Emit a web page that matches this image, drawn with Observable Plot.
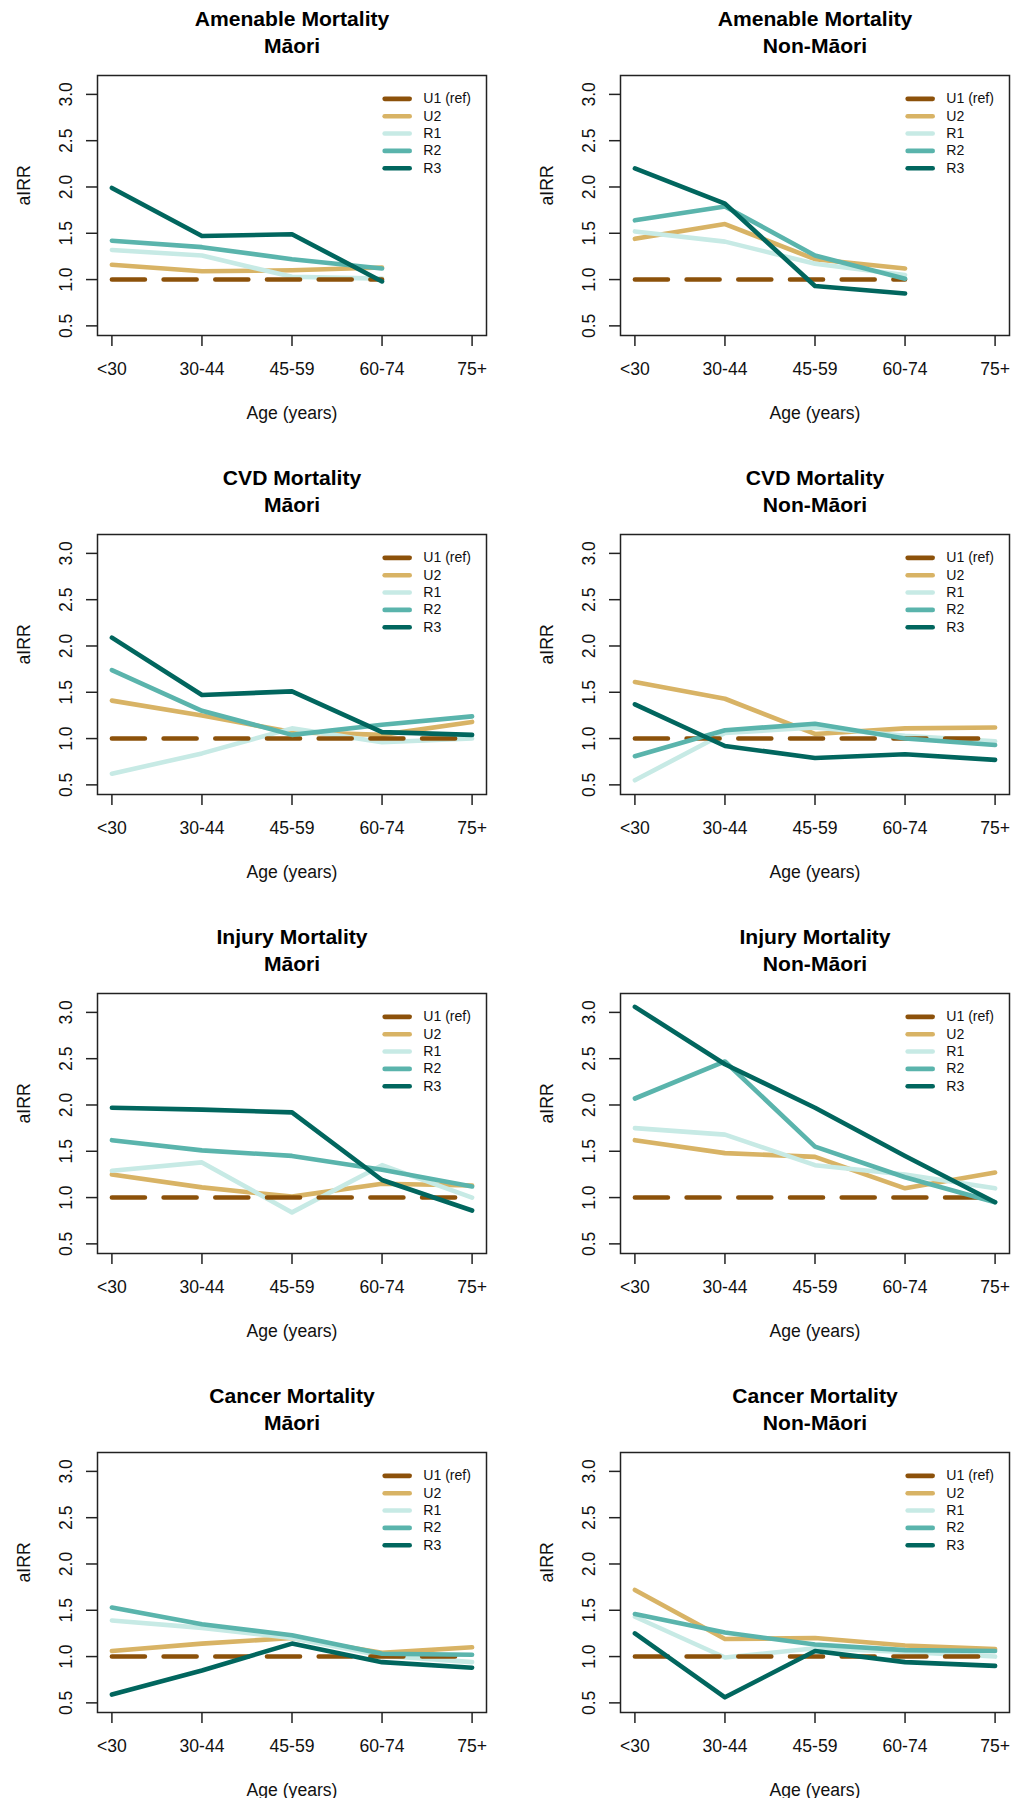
<!DOCTYPE html>
<html>
<head>
<meta charset="utf-8">
<script src="https://cdn.jsdelivr.net/npm/d3@7"></script>
<script src="https://cdn.jsdelivr.net/npm/@observablehq/plot@0.6"></script>
<style>
  html, body { margin: 0; padding: 0; background: #fff; }
  #fig { position: relative; width: 1011px; height: 1798px; overflow: hidden; background: #fff; }
  #fig svg { position: absolute; }
</style>
</head>
<body>
<div id="fig"></div>
<script>
// ---- categories & labels ----
const ages = ["<30", "30-44", "45-59", "60-74", "75+"];
const groups = ["U1 (ref)", "U2", "R1", "R2", "R3"];
const groupColors = ["#8c510a", "#d8b365", "#c7eae5", "#5ab4ac", "#01665e"];
const yTicks = [0.5, 1.0, 1.5, 2.0, 2.5, 3.0];
const causes = ["Amenable Mortality", "CVD Mortality", "Injury Mortality", "Cancer Mortality"];
const ethnicities = ["Māori", "Non-Māori"];

// ---- aIRR by age group; rows: U1 (ref), U2, R1, R2, R3 ----
const amenableMaori = [
  [1.00, 1.00, 1.00, 1.00],
  [1.16, 1.09, 1.10, 1.13],
  [1.32, 1.26, 1.03, 1.01],
  [1.42, 1.35, 1.22, 1.12],
  [1.99, 1.47, 1.49, 0.98]
];
const amenableNonMaori = [
  [1.00, 1.00, 1.00, 1.00],
  [1.44, 1.60, 1.22, 1.12],
  [1.52, 1.41, 1.17, 1.05],
  [1.64, 1.79, 1.26, 1.01],
  [2.20, 1.82, 0.93, 0.85]
];
const cvdMaori = [
  [1.00, 1.00, 1.00, 1.00, 1.00],
  [1.41, 1.25, 1.07, 1.04, 1.18],
  [0.62, 0.84, 1.11, 0.96, 1.00],
  [1.74, 1.30, 1.04, 1.15, 1.24],
  [2.09, 1.47, 1.51, 1.07, 1.04]
];
const cvdNonMaori = [
  [1.00, 1.00, 1.00, 1.00, 1.00],
  [1.61, 1.43, 1.05, 1.11, 1.12],
  [0.55, 1.06, 1.12, 1.03, 0.97],
  [0.81, 1.09, 1.16, 1.00, 0.93],
  [1.37, 0.92, 0.79, 0.83, 0.77]
];
const injuryMaori = [
  [1.00, 1.00, 1.00, 1.00, 1.00],
  [1.25, 1.11, 1.01, 1.15, 1.13],
  [1.29, 1.38, 0.84, 1.35, 1.00],
  [1.62, 1.51, 1.45, 1.30, 1.12],
  [1.97, 1.95, 1.92, 1.19, 0.86]
];
const injuryNonMaori = [
  [1.00, 1.00, 1.00, 1.00, 1.00],
  [1.62, 1.48, 1.44, 1.10, 1.27],
  [1.75, 1.68, 1.35, 1.25, 1.10],
  [2.07, 2.47, 1.55, 1.22, 0.95],
  [3.06, 2.44, 1.97, 1.45, 0.95]
];
const cancerMaori = [
  [1.00, 1.00, 1.00, 1.00, 1.00],
  [1.06, 1.14, 1.20, 1.04, 1.10],
  [1.39, 1.31, 1.20, 1.01, 0.94],
  [1.53, 1.35, 1.23, 1.03, 1.02],
  [0.59, 0.85, 1.14, 0.94, 0.88]
];
const cancerNonMaori = [
  [1.00, 1.00, 1.00, 1.00, 1.00],
  [1.72, 1.19, 1.20, 1.12, 1.08],
  [1.43, 0.99, 1.09, 1.05, 1.00],
  [1.46, 1.26, 1.13, 1.07, 1.06],
  [1.25, 0.56, 1.06, 0.94, 0.90]
];

const panelData = [
  [amenableMaori, amenableNonMaori],
  [cvdMaori, cvdNonMaori],
  [injuryMaori, injuryNonMaori],
  [cancerMaori, cancerNonMaori]
];

// ---- layout ----
const FONT = "'Liberation Sans', Arial, Helvetica, sans-serif";
const CELL_W = 523, CELL_H = 459, TOP_OFFSET = -9;
const drawOrder = [1, 2, 0, 3, 4];
const LW = 4.6;

function panel(title, values) {
  const rows = values.flatMap((vals, g) => vals.map((v, i) => ({g, group: groups[g], age: i + 1, value: v})));
  const legendRows = groups.map((name, i) => ({name, i, y: 2.952 - 0.1874 * i}));
  const marks = [
    Plot.frame({stroke: "#222", strokeWidth: 1.5}),
    Plot.axisX([1, 2, 3, 4, 5], {
      tickSize: 11, tickPadding: 16, tickFormat: d => ages[d - 1],
      fontSize: 17.6, stroke: "#222", strokeWidth: 1.5, fill: "#111", label: null
    }),
    Plot.axisY(yTicks, {tickSize: 11, stroke: "#222", strokeWidth: 1.5, fill: "none", label: null}),
    Plot.text(yTicks, {
      y: d => d, frameAnchor: "left", dx: -26, rotate: -90,
      text: d => d.toFixed(1), fontSize: 17.6, lineAnchor: "bottom", textAnchor: "middle", fill: "#111"
    }),
    Plot.text(["aIRR"], {frameAnchor: "left", dx: -68, rotate: -90, lineAnchor: "bottom", fontSize: 17.6, fill: "#111"}),
    Plot.text(["Age (years)"], {frameAnchor: "bottom", dy: 83, lineAnchor: "bottom", fontSize: 17.6, fill: "#111"}),
    Plot.text([title], {
      frameAnchor: "top", dy: -22.5, lineAnchor: "bottom", fontWeight: "bold",
      fontSize: 21.1, lineHeight: 1.27, fill: "#000"
    })
  ];
  for (const g of drawOrder) {
    marks.push(Plot.line(rows.filter(d => d.g === g), {
      x: "age", y: "value", stroke: groupColors[g], strokeWidth: LW,
      strokeLinecap: "round", strokeLinejoin: "round",
      strokeDasharray: g === 0 ? "33,18.7" : null
    }));
  }
  legendRows.forEach(r => {
    marks.push(Plot.link([r], {
      x1: () => 4.029, x2: () => 4.307, y1: "y", y2: "y",
      stroke: groupColors[r.i], strokeWidth: LW, strokeLinecap: "round"
    }));
  });
  marks.push(Plot.text(legendRows, {
    x: () => 4.457, y: "y", text: "name", textAnchor: "start",
    lineAnchor: "middle", fontSize: 14.1, fill: "#111"
  }));
  return Plot.plot({
    width: CELL_W, height: CELL_H,
    marginTop: 84, marginBottom: 115, marginLeft: 97, marginRight: 37,
    x: {domain: [0.84, 5.16]},
    y: {domain: [0.396, 3.204]},
    style: {fontFamily: FONT, fontSize: "17.6px", color: "#111", background: "transparent", overflow: "visible"},
    marks
  });
}

const fig = document.getElementById("fig");
panelData.forEach((pair, r) => {
  pair.forEach((values, c) => {
    const svg = panel(causes[r] + "\n" + ethnicities[c], values);
    svg.style.left = (c * CELL_W) + "px";
    svg.style.top = (TOP_OFFSET + r * CELL_H) + "px";
    fig.appendChild(svg);
  });
});
</script>
</body>
</html>
